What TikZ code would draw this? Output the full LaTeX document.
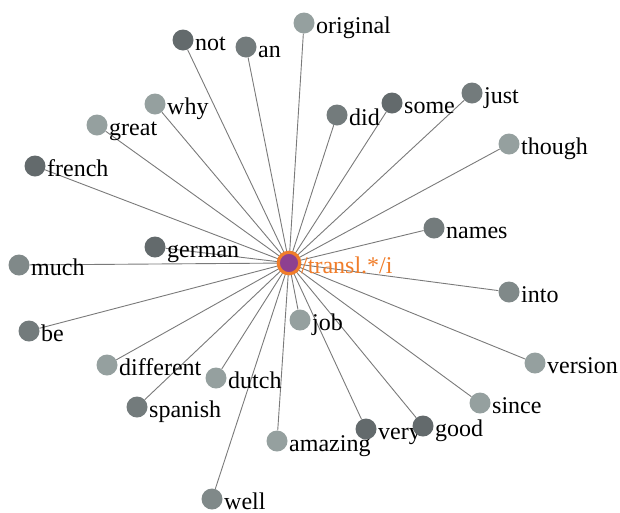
\documentclass[tikz,border=0pt]{standalone}
\usepackage{fontspec}
\setmainfont{Liberation Serif}
\usetikzlibrary{backgrounds}
\definecolor{ga}{HTML}{636A6C}
\definecolor{gb}{HTML}{737B7C}
\definecolor{gc}{HTML}{808989}
\definecolor{gd}{HTML}{95A09F}
\definecolor{edgegray}{HTML}{7A7A7A}
\definecolor{hubfill}{HTML}{8E4090}
\definecolor{hubline}{HTML}{F07D2A}
\begin{document}
\begin{tikzpicture}[x=1pt,y=-1pt,
  word/.style={circle, minimum size=21pt, inner sep=0pt},
  lbl/.style={anchor=base west, font=\fontsize{24}{28}\selectfont, inner sep=0pt, text=black},
  link/.style={draw=edgegray, line width=0.9pt},
  hub/.style={circle, minimum size=21.5pt, inner sep=0pt, fill=hubfill, draw=hubline, line width=3.2pt}]
\useasboundingbox (0,0) rectangle (620,512);
\node[hub] (c) at (289,263) {};
\node[lbl, text=hubline] (cl) at (301,273) {/transl.*/i};
\foreach \n/\x/\y/\c in {
  not/183/40/ga, an/246/47/gb, original/304/23/gd, why/155/104/gd,
  great/97/125/gd, french/35/166/ga, did/337/115/gb, some/392/103/ga,
  just/472/93/gb, though/509/144/gd, names/434/228/gb, german/155/247/ga,
  much/19/265/gc, be/29/331/gb, different/107/365/gd, spanish/137/407/gb,
  dutch/216/378/gd, job/300/320/gd, amazing/277/441/gd, well/212/499/gc,
  very/366/429/ga, good/423/426/ga, since/480/403/gd, version/535/363/gd,
  into/509/292/gc}{
  \node[word, fill=\c] (\n) at (\x,\y) {};
  \node[lbl] (\n-l) at (\x+12,\y+10) {\n};
  \begin{scope}[on background layer]
    \draw[link] (c.center) -- (\n);
  \end{scope}
}
\end{tikzpicture}
\end{document}
